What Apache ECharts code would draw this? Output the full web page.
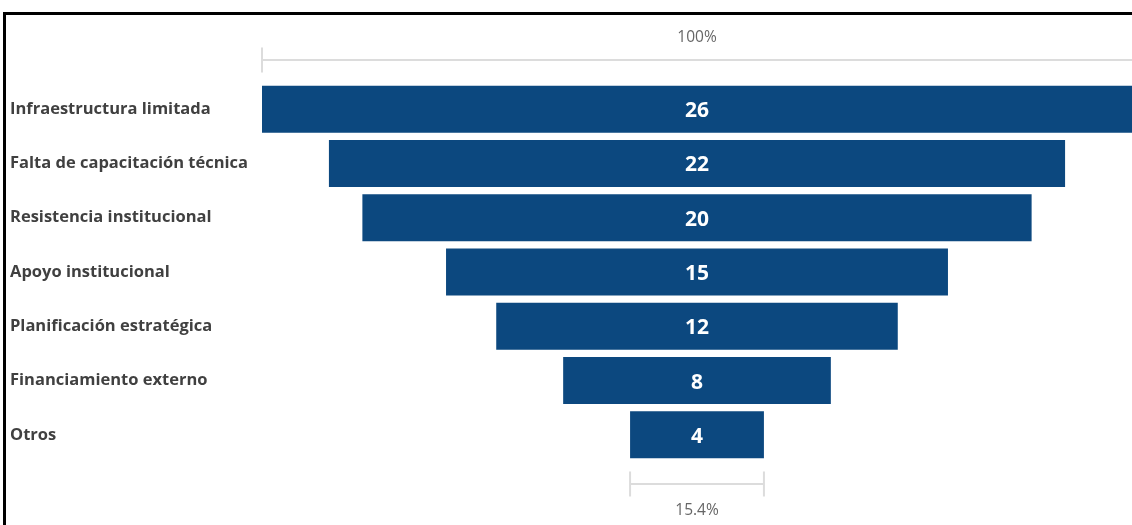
<!DOCTYPE html>
<html>
<head>
<meta charset="utf-8">
<script src="https://cdn.jsdelivr.net/npm/echarts@6/dist/echarts.min.js"></script>
<style>
  html, body { margin: 0; padding: 0; background: #fff; }
  #main { position: absolute; left: 0; top: 0; width: 1132px; height: 525px; }
  #frame { position: absolute; left: 3px; top: 12px; width: 1200px; height: 600px;
           border-left: 3px solid #000; border-top: 3px solid #000; pointer-events: none; }
</style>
</head>
<body>
<div id="main"></div>
<div id="frame"></div>
<script>
// datos del embudo
var categorias = ['Infraestructura limitada', 'Falta de capacitación técnica', 'Resistencia institucional',
    'Apoyo institucional', 'Planificación estratégica', 'Financiamiento externo', 'Otros'];
var valores = [26, 22, 20, 15, 12, 8, 4];

var maximo = Math.max.apply(null, valores);
// relleno invisible para centrar cada barra
var relleno = valores.map(function (v) { return (maximo - v) / 2; });
var ultimo = valores.length - 1;
var pct = function (v) {
    var p = v / valores[0] * 100;
    return (Math.round(p * 10) / 10) + '%';
};

var chart = echarts.init(document.getElementById('main'));

var option = {
    animation: false,
    grid: { left: 262, right: 0, top: 82, bottom: 63 },
    xAxis: { type: 'value', min: 0, max: maximo, show: false },
    yAxis: {
        type: 'category',
        inverse: true,
        data: categorias,
        axisLine: { show: false },
        axisTick: { show: false },
        axisLabel: {
            align: 'left',
            margin: 252,
            color: '#404040',
            fontFamily: 'Open Sans',
            fontWeight: 'bold',
            fontSize: 16.5
        }
    },
    series: [{
        type: 'bar',
        stack: 'f',
        barWidth: 47,
        silent: true,
        itemStyle: { color: 'transparent' },
        data: relleno
    }, {
        type: 'bar',
        stack: 'f',
        barWidth: 47,
        itemStyle: { color: '#0C487F' },
        label: {
            show: true,
            position: 'inside',
            color: '#fff',
            fontFamily: 'Open Sans',
            fontWeight: 'bold',
            fontSize: 21,
            offset: [0, 2]
        },
        data: valores
    }, {
        // corchetes de 100% y % final
        type: 'custom',
        silent: true,
        clip: false,
        data: [[valores[0], 0, -1], [valores[ultimo], ultimo, 1]],
        encode: { x: 0, y: 1 },
        renderItem: function (params, api) {
            var v = api.value(0), idx = api.value(1), dir = api.value(2);
            var c = api.coord([maximo / 2, idx]);
            var half = api.size([v, 0])[0] / 2;
            var band = api.size([0, 1])[1];
            var y = c[1] + dir * band * 0.905;
            var ty = c[1] + dir * band * (dir < 0 ? 1.31 : 1.39);
            var x0 = c[0] - half, x1 = c[0] + half;
            var st = { stroke: '#dcdcdc', lineWidth: 2 };
            var kids = [
                { type: 'line', shape: { x1: x0, y1: y, x2: x1, y2: y }, style: st },
                { type: 'line', shape: { x1: x0, y1: y - 12.5, x2: x0, y2: y + 12.5 }, style: st },
                {
                    type: 'text',
                    style: {
                        x: c[0], y: ty, text: pct(v),
                        align: 'center', verticalAlign: 'middle',
                        fill: '#666', font: '15.5px "Open Sans"'
                    }
                }
            ];
            // el tope derecho superior queda fuera del recorte
            if (x1 < api.getWidth() - 3) {
                kids.push({ type: 'line', shape: { x1: x1, y1: y - 12.5, x2: x1, y2: y + 12.5 }, style: st });
            }
            return { type: 'group', children: kids };
        }
    }]
};

chart.setOption(option);
</script>
</body>
</html>
